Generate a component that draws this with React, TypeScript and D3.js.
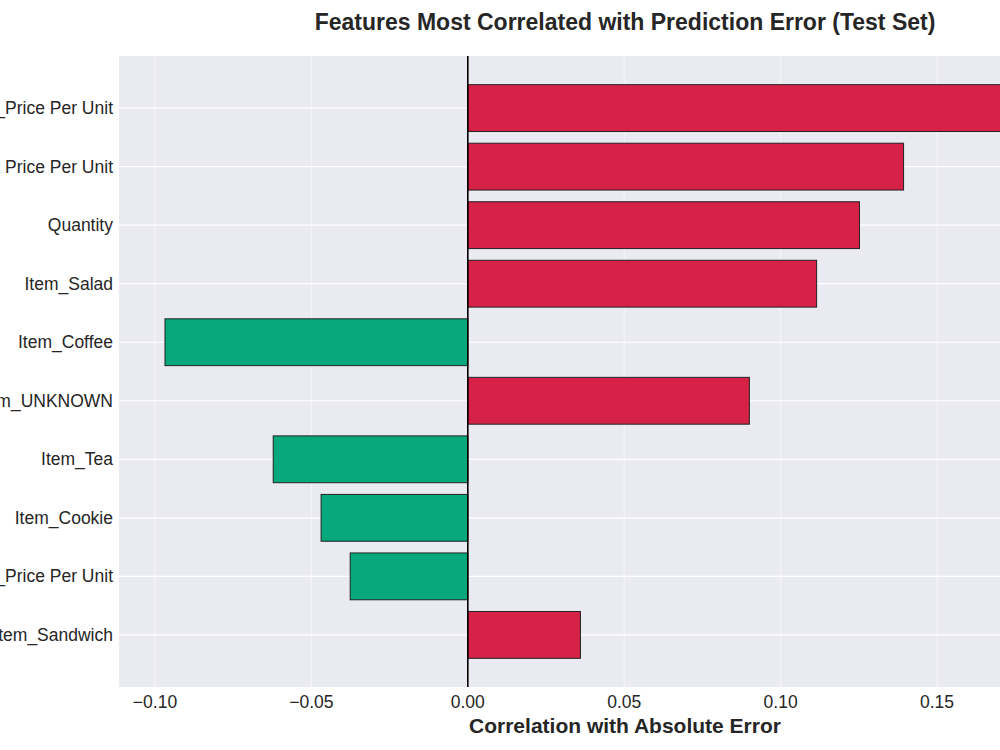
import * as d3 from "d3";
import React from "react";

// feature names, top to bottom
const features = [
  "Total Spent_Price Per Unit",
  "Total Spent Price Per Unit",
  "Quantity",
  "Item_Salad",
  "Item_Coffee",
  "Item_UNKNOWN",
  "Item_Tea",
  "Item_Cookie",
  "Payment_Price Per Unit",
  "Item_Sandwich",
];

// correlation of each feature with the absolute error
const correlations = [0.197, 0.1393, 0.1252, 0.1115, -0.0968, 0.09, -0.0622, -0.0469, -0.0376, 0.036];

const xTicks = [-0.1, -0.05, 0, 0.05, 0.1, 0.15, 0.2];

const W = 1000;
const H = 750;
const FONT = "'Liberation Sans', Arial, sans-serif";

export default function App() {
  const left = 119;
  const right = 1131;
  const top = 56;
  const bottom = 687;

  const x = d3.scaleLinear().domain([-0.1115, 0.212]).range([left, right]);
  const y = d3
    .scaleBand<string>()
    .domain(features)
    .range([top, bottom])
    .paddingInner(0.2)
    .paddingOuter(0.49);

  const fmt = (v: number) => d3.format(".2f")(v).replace("-", "\u2212");

  return (
    <svg
      width={W}
      height={H}
      style={{ position: "absolute", left: 0, top: 0, background: "#fff" }}
      fontFamily={FONT}
    >
      <rect x={left} y={top} width={right - left} height={bottom - top} fill="#eaeaf2" />

      {/* vertical grid */}
      {xTicks.map((t) => (
        <line
          key={"gx" + t}
          x1={x(t)}
          x2={x(t)}
          y1={top}
          y2={bottom}
          stroke="#ffffff"
          strokeOpacity={0.55}
          strokeWidth={1}
        />
      ))}
      {/* horizontal grid */}
      {features.map((f) => {
        const cy = (y(f) ?? 0) + y.bandwidth() / 2;
        return <line key={"gy" + f} x1={left} x2={right} y1={cy} y2={cy} stroke="#ffffff" strokeWidth={1.2} />;
      })}

      {features.map((f, i) => {
        const v = correlations[i];
        const x0 = x(Math.min(0, v));
        const x1 = x(Math.max(0, v));
        return (
          <rect
            key={f}
            x={x0}
            y={y(f)}
            width={x1 - x0}
            height={y.bandwidth()}
            fill={v >= 0 ? "#d62246" : "#08a87d"}
            stroke="#222"
            strokeWidth={1}
          />
        );
      })}

      <line x1={x(0)} x2={x(0)} y1={top} y2={bottom} stroke="#000" strokeWidth={1.6} />

      {features.map((f) => (
        <text
          key={"l" + f}
          x={left - 6}
          y={(y(f) ?? 0) + y.bandwidth() / 2}
          textAnchor="end"
          dominantBaseline="central"
          fontSize={17.5}
          fill="#262626"
        >
          {f}
        </text>
      ))}

      {xTicks.map((t) => (
        <text key={"t" + t} x={x(t)} y={708} textAnchor="middle" fontSize={17.5} fill="#262626">
          {fmt(t)}
        </text>
      ))}

      <text x={(left + right) / 2} y={733} textAnchor="middle" fontSize={21} fontWeight="bold" fill="#262626">
        Correlation with Absolute Error
      </text>

      <text x={(left + right) / 2} y={30} textAnchor="middle" fontSize={23} fontWeight="bold" fill="#262626">
        Features Most Correlated with Prediction Error (Test Set)
      </text>
    </svg>
  );
}
